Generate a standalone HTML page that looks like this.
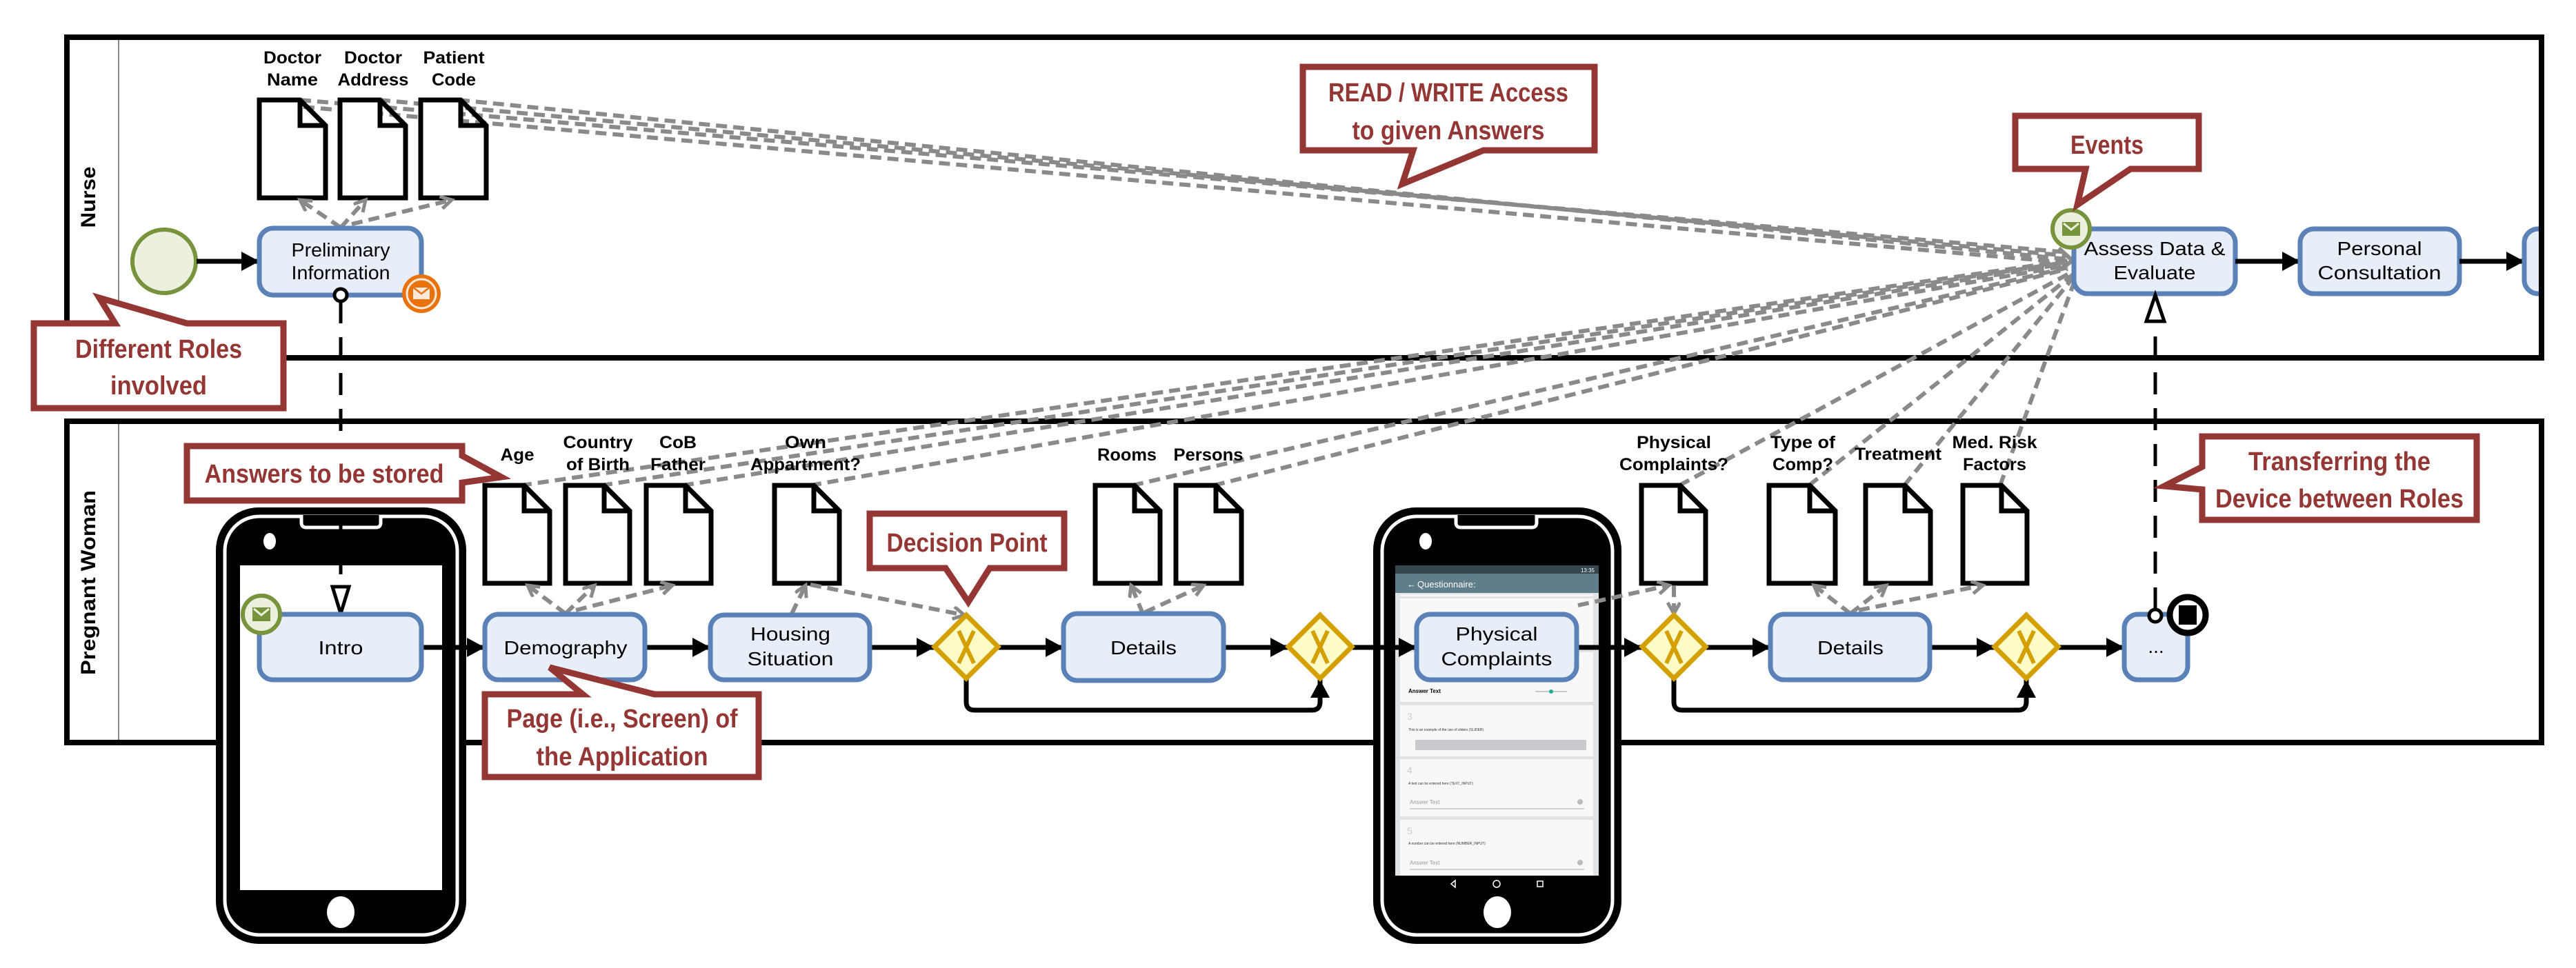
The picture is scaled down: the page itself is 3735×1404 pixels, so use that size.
<!DOCTYPE html>
<html><head><meta charset="utf-8"><style>
html,body{margin:0;padding:0;background:#fff;}
svg{display:block;}
text{font-family:"Liberation Sans",Arial,sans-serif;}
.t{font-size:28px;fill:#000;text-anchor:middle;}
.d{font-size:25px;font-weight:bold;fill:#000;text-anchor:middle;}
.c{font-size:38px;font-weight:bold;fill:#943634;text-anchor:middle;}
.task{fill:#e8eef7;stroke:#5a82b8;stroke-width:7;}
.doc{fill:#fff;stroke:#000;stroke-width:7;stroke-linejoin:miter;}
.seq{stroke:#000;stroke-width:7;fill:none;marker-end:url(#ah);}
.as{stroke:#8a8a8a;stroke-width:6;fill:none;stroke-dasharray:16 9;}
.asa{stroke:#8a8a8a;stroke-width:6;fill:none;stroke-dasharray:16 9;marker-end:url(#oa);}
.gw{fill:#fffcc8;stroke:#d4a000;stroke-width:7;}
.gx{stroke:#d4a000;stroke-width:6;fill:none;}
.call{fill:#fff;stroke:#943634;stroke-width:9;stroke-linejoin:miter;}
</style></head><body>
<svg width="3735" height="1404" viewBox="0 0 3735 1404" xmlns="http://www.w3.org/2000/svg">
<defs>
<marker id="ah" markerUnits="userSpaceOnUse" markerWidth="30" markerHeight="30" refX="26" refY="14" orient="auto"><path d="M0,0 L26,14 L0,28 z" fill="#000"/></marker>
<marker id="oa" markerUnits="userSpaceOnUse" markerWidth="24" markerHeight="24" refX="18" refY="10" orient="auto"><path d="M2,1 L18,10 L2,19" fill="none" stroke="#8a8a8a" stroke-width="5"/></marker>
<clipPath id="lc"><rect x="0" y="0" width="3683" height="1404"/></clipPath>
</defs>

<rect x="97" y="54" width="3588" height="465" fill="none" stroke="#000" stroke-width="8"/>
<line x1="172" y1="58" x2="172" y2="515" stroke="#888" stroke-width="2"/>
<text transform="translate(138,286) rotate(-90)" text-anchor="middle" font-size="30" font-weight="bold" textLength="89" lengthAdjust="spacingAndGlyphs">Nurse</text>
<rect x="97" y="611" width="3588" height="466" fill="none" stroke="#000" stroke-width="8"/>
<line x1="172" y1="615" x2="172" y2="1073" stroke="#888" stroke-width="2"/>
<text transform="translate(138,845) rotate(-90)" text-anchor="middle" font-size="30" font-weight="bold" textLength="268" lengthAdjust="spacingAndGlyphs">Pregnant Woman</text>

<rect x="313" y="736" width="363" height="633" rx="62" fill="#000"/>
<rect x="326" y="749" width="337" height="607" rx="50" fill="none" stroke="#fff" stroke-width="5"/>
<path d="M437,747 L437,758 Q437,765 444,765 L545,765 Q552,765 552,758 L552,747" fill="#000" stroke="#fff" stroke-width="5"/>
<ellipse cx="391" cy="785" rx="9" ry="12" fill="#fff"/>
<rect x="348" y="820" width="293" height="471" fill="#fff"/>
<ellipse cx="494" cy="1323" rx="20" ry="23" fill="#fff"/>

<rect x="1991" y="736" width="360" height="633" rx="62" fill="#000"/>
<rect x="2004" y="749" width="334" height="607" rx="50" fill="none" stroke="#fff" stroke-width="5"/>
<path d="M2111,747 L2111,758 Q2111,765 2118,765 L2221,765 Q2228,765 2228,758 L2228,747" fill="#000" stroke="#fff" stroke-width="5"/>
<ellipse cx="2067" cy="785" rx="9" ry="12" fill="#fff"/>
<rect x="2023" y="820" width="295" height="450" fill="#dfe3e6"/>
<rect x="2023" y="820" width="295" height="12" fill="#37474f"/>
<rect x="2023" y="832" width="295" height="28" fill="#607d8b"/>
<text x="2055" y="852" font-size="13" fill="#fff">Questionnaire:</text>
<text x="2040" y="852" font-size="13" fill="#fff">←</text>
<text x="2312" y="830" font-size="8" fill="#fff" text-anchor="end">13:35</text>
<rect x="2030" y="862" width="280" height="3" fill="#f7f7f7"/>
<rect x="2030" y="868" width="280" height="72" fill="#f8f8f8"/>
<rect x="2030" y="946" width="280" height="72" fill="#f8f8f8"/>
<text x="2042" y="1005" font-size="8" font-weight="bold">Answer Text</text>
<line x1="2226" y1="1003" x2="2272" y2="1003" stroke="#bbb" stroke-width="1.5"/>
<circle cx="2249" cy="1003" r="3" fill="#26a69a"/>
<rect x="2030" y="1023" width="280" height="74" fill="#f8f8f8"/>
<text x="2040" y="1044" font-size="14" fill="#ccc">3</text>
<text x="2042" y="1060" font-size="5" fill="#333">This is an example of the use of sliders (SLIDER)</text>
<rect x="2052" y="1073" width="248" height="15" rx="2" fill="#c8cacd"/>
<rect x="2030" y="1101" width="280" height="83" fill="#f8f8f8"/>
<text x="2040" y="1122" font-size="14" fill="#ccc">4</text>
<text x="2042" y="1138" font-size="5" fill="#333">A text can be entered here (TEXT_INPUT)</text>
<text x="2044" y="1166" font-size="8" fill="#999">Answer Text</text>
<line x1="2044" y1="1173" x2="2297" y2="1173" stroke="#aaa" stroke-width="1"/>
<circle cx="2291" cy="1163" r="4" fill="#bbb"/>
<rect x="2030" y="1189" width="280" height="81" fill="#f8f8f8"/>
<text x="2040" y="1210" font-size="14" fill="#ccc">5</text>
<text x="2042" y="1225" font-size="5" fill="#333">A number can be entered here (NUMBER_INPUT)</text>
<text x="2044" y="1254" font-size="8" fill="#999">Answer Text</text>
<line x1="2044" y1="1261" x2="2297" y2="1261" stroke="#aaa" stroke-width="1"/>
<circle cx="2291" cy="1251" r="4" fill="#bbb"/>
<path d="M2110,1277 L2104,1282 L2110,1287 z" fill="none" stroke="#fff" stroke-width="1.5"/>
<circle cx="2170" cy="1282" r="5" fill="none" stroke="#fff" stroke-width="1.5"/>
<rect x="2229" y="1278" width="8" height="8" fill="none" stroke="#fff" stroke-width="1.5"/>
<ellipse cx="2171" cy="1323" rx="20" ry="23" fill="#fff"/>

<g class="as">
<line x1="435" y1="145" x2="2998" y2="366"/>
<line x1="550" y1="145" x2="2998" y2="371"/>
<line x1="665" y1="145" x2="2998" y2="376"/>
<line x1="440" y1="155" x2="2998" y2="381"/>
<line x1="755" y1="704" x2="2998" y2="378"/>
<line x1="872" y1="704" x2="2998" y2="380"/>
<line x1="990" y1="704" x2="2998" y2="382"/>
<line x1="1175" y1="704" x2="2998" y2="385"/>
<line x1="1642" y1="704" x2="2998" y2="388"/>
<line x1="1760" y1="704" x2="2998" y2="390"/>
<line x1="2435" y1="704" x2="3003" y2="395"/>
<line x1="2623" y1="704" x2="3006" y2="398"/>
<line x1="2761" y1="704" x2="3008" y2="400"/>
<line x1="2900" y1="704" x2="3010" y2="402"/>
</g>
<path d="M2985,360 L3005,378 L2985,392" fill="none" stroke="#8a8a8a" stroke-width="6"/>

<g class="doc">
<path d="M376,145 L435,145 L472,182 L472,287 L376,287 z M435,145 L435,182 L472,182"/>
<path d="M493,145 L551,145 L588,182 L588,287 L493,287 z M551,145 L551,182 L588,182"/>
<path d="M610,145 L668,145 L705,182 L705,287 L610,287 z M668,145 L668,182 L705,182"/>
</g>
<text class="d" x="424" y="92" textLength="84" lengthAdjust="spacingAndGlyphs">Doctor</text>
<text class="d" x="424" y="124" textLength="74" lengthAdjust="spacingAndGlyphs">Name</text>
<text class="d" x="541" y="92" textLength="84" lengthAdjust="spacingAndGlyphs">Doctor</text>
<text class="d" x="541" y="124" textLength="103" lengthAdjust="spacingAndGlyphs">Address</text>
<text class="d" x="658" y="92" textLength="89" lengthAdjust="spacingAndGlyphs">Patient</text>
<text class="d" x="658" y="124" textLength="64" lengthAdjust="spacingAndGlyphs">Code</text>
<line class="asa" x1="494" y1="330" x2="435" y2="290"/>
<line class="asa" x1="494" y1="330" x2="530" y2="290"/>
<line class="asa" x1="510" y1="325" x2="655" y2="290"/>

<circle cx="238" cy="379" r="46" fill="#ebf1de" stroke="#77933c" stroke-width="6"/>
<line class="seq" x1="285" y1="379" x2="376" y2="379"/>
<rect class="task" x="376" y="331" width="235" height="97" rx="20"/>
<text class="t" x="494" y="372" font-size="26" textLength="143" lengthAdjust="spacingAndGlyphs">Preliminary</text>
<text class="t" x="494" y="405" font-size="26" textLength="143" lengthAdjust="spacingAndGlyphs">Information</text>
<circle cx="611" cy="426" r="28" fill="#e8720c"/>
<circle cx="611" cy="426" r="21" fill="none" stroke="#fde9d9" stroke-width="3"/>
<rect x="598" y="416" width="26" height="19" fill="#fde9d9" stroke="#e8720c" stroke-width="2"/>
<path d="M598,416 L611,426 L624,416" fill="none" stroke="#e8720c" stroke-width="2.5"/>

<rect class="task" x="3007" y="332" width="234" height="94" rx="20"/>
<text class="t" x="3124" y="370" textLength="205" lengthAdjust="spacingAndGlyphs">Assess Data &amp;</text>
<text class="t" x="3124" y="405" textLength="119" lengthAdjust="spacingAndGlyphs">Evaluate</text>
<circle cx="3003" cy="332" r="27" fill="#ebf1de" stroke="#77933c" stroke-width="6"/>
<rect x="2990" y="322" width="26" height="20" fill="#77933c"/>
<path d="M2992,324 L3003,333 L3014,324" fill="none" stroke="#ebf1de" stroke-width="3"/>
<line class="seq" x1="3241" y1="379" x2="3335" y2="379"/>
<rect class="task" x="3335" y="332" width="231" height="94" rx="20"/>
<text class="t" x="3450" y="370" textLength="123" lengthAdjust="spacingAndGlyphs">Personal</text>
<text class="t" x="3450" y="405" textLength="179" lengthAdjust="spacingAndGlyphs">Consultation</text>
<line class="seq" x1="3566" y1="379" x2="3660" y2="379"/>
<g clip-path="url(#lc)"><rect class="task" x="3660" y="332" width="120" height="94" rx="20"/></g>
<rect x="3681" y="50" width="8" height="473" fill="#000"/>

<circle cx="494" cy="428" r="9" fill="#fff" stroke="#000" stroke-width="5"/>
<line x1="494" y1="437" x2="494" y2="850" stroke="#000" stroke-width="5" stroke-dasharray="32 20"/>
<path d="M482,851 L506,851 L494,890 z" fill="#fff" stroke="#000" stroke-width="5"/>
<line x1="3125" y1="884" x2="3125" y2="468" stroke="#000" stroke-width="5" stroke-dasharray="32 20"/>
<path d="M3112,466 L3138,466 L3125,428 z" fill="#fff" stroke="#000" stroke-width="5"/>

<g class="doc">
<path d="M703,704 L760,704 L797,741 L797,846 L703,846 z M760,704 L760,741 L797,741"/>
<path d="M820,704 L876,704 L913,741 L913,846 L820,846 z M876,704 L876,741 L913,741"/>
<path d="M937,704 L994,704 L1031,741 L1031,846 L937,846 z M994,704 L994,741 L1031,741"/>
<path d="M1123,704 L1180,704 L1217,741 L1217,846 L1123,846 z M1180,704 L1180,741 L1217,741"/>
<path d="M1588,704 L1645,704 L1682,741 L1682,846 L1588,846 z M1645,704 L1645,741 L1682,741"/>
<path d="M1705,704 L1763,704 L1800,741 L1800,846 L1705,846 z M1763,704 L1763,741 L1800,741"/>
<path d="M2380,704 L2436,704 L2473,741 L2473,846 L2380,846 z M2436,704 L2436,741 L2473,741"/>
<path d="M2565,704 L2624,704 L2661,741 L2661,846 L2565,846 z M2624,704 L2624,741 L2661,741"/>
<path d="M2705,704 L2762,704 L2799,741 L2799,846 L2705,846 z M2762,704 L2762,741 L2799,741"/>
<path d="M2846,704 L2902,704 L2939,741 L2939,846 L2846,846 z M2902,704 L2902,741 L2939,741"/>
</g>
<text class="d" x="750" y="668" textLength="49" lengthAdjust="spacingAndGlyphs">Age</text>
<text class="d" x="867" y="650" textLength="101" lengthAdjust="spacingAndGlyphs">Country</text>
<text class="d" x="867" y="682" textLength="92" lengthAdjust="spacingAndGlyphs">of Birth</text>
<text class="d" x="983" y="650" textLength="54" lengthAdjust="spacingAndGlyphs">CoB</text>
<text class="d" x="983" y="682" textLength="80" lengthAdjust="spacingAndGlyphs">Father</text>
<text class="d" x="1168" y="650" textLength="60" lengthAdjust="spacingAndGlyphs">Own</text>
<text class="d" x="1168" y="682" textLength="160" lengthAdjust="spacingAndGlyphs">Appartment?</text>
<text class="d" x="1634" y="668" textLength="86" lengthAdjust="spacingAndGlyphs">Rooms</text>
<text class="d" x="1752" y="668" textLength="101" lengthAdjust="spacingAndGlyphs">Persons</text>
<text class="d" x="2427" y="650" textLength="108" lengthAdjust="spacingAndGlyphs">Physical</text>
<text class="d" x="2427" y="682" textLength="158" lengthAdjust="spacingAndGlyphs">Complaints?</text>
<text class="d" x="2614" y="650" textLength="94" lengthAdjust="spacingAndGlyphs">Type of</text>
<text class="d" x="2614" y="682" textLength="88" lengthAdjust="spacingAndGlyphs">Comp?</text>
<text class="d" x="2752" y="667" textLength="126" lengthAdjust="spacingAndGlyphs">Treatment</text>
<text class="d" x="2892" y="650" textLength="123" lengthAdjust="spacingAndGlyphs">Med. Risk</text>
<text class="d" x="2892" y="682" textLength="92" lengthAdjust="spacingAndGlyphs">Factors</text>

<line class="asa" x1="820" y1="890" x2="765" y2="849"/>
<line class="asa" x1="820" y1="890" x2="862" y2="849"/>
<line class="asa" x1="835" y1="885" x2="975" y2="849"/>
<line class="asa" x1="1148" y1="890" x2="1168" y2="849"/>
<line class="asa" x1="1175" y1="848" x2="1398" y2="892"/>
<line class="asa" x1="1657" y1="890" x2="1640" y2="849"/>
<line class="asa" x1="1660" y1="888" x2="1745" y2="849"/>
<line class="asa" x1="2288" y1="878" x2="2420" y2="849"/>
<line class="asa" x1="2427" y1="850" x2="2427" y2="890"/>
<line class="asa" x1="2683" y1="890" x2="2630" y2="849"/>
<line class="asa" x1="2683" y1="890" x2="2735" y2="849"/>
<line class="asa" x1="2695" y1="885" x2="2875" y2="849"/>

<line class="seq" x1="611" y1="939" x2="703" y2="939"/>
<line class="seq" x1="935" y1="939" x2="1030" y2="939"/>
<line class="seq" x1="1261" y1="939" x2="1355" y2="939"/>
<line class="seq" x1="1447" y1="939" x2="1542" y2="939"/>
<line class="seq" x1="1774" y1="939" x2="1868" y2="939"/>
<line class="seq" x1="1960" y1="939" x2="2054" y2="939"/>
<line class="seq" x1="2286" y1="939" x2="2381" y2="939"/>
<line class="seq" x1="2473" y1="939" x2="2567" y2="939"/>
<line class="seq" x1="2798" y1="939" x2="2892" y2="939"/>
<line class="seq" x1="2984" y1="939" x2="3080" y2="939"/>
<path class="seq" d="M1401,984 L1401,1018 Q1401,1030 1413,1030 L1902,1030 Q1914,1030 1914,1018 L1914,986"/>
<path class="seq" d="M2427,984 L2427,1018 Q2427,1030 2439,1030 L2926,1030 Q2938,1030 2938,1018 L2938,986"/>

<rect class="task" x="376" y="891" width="235" height="95" rx="20"/>
<text class="t" x="494" y="949" textLength="65" lengthAdjust="spacingAndGlyphs">Intro</text>
<circle cx="379" cy="891" r="27" fill="#ebf1de" stroke="#77933c" stroke-width="6"/>
<rect x="366" y="881" width="26" height="20" fill="#77933c"/>
<path d="M368,883 L379,892 L390,883" fill="none" stroke="#ebf1de" stroke-width="3"/>
<rect class="task" x="703" y="891" width="232" height="95" rx="20"/>
<text class="t" x="820" y="949" textLength="179" lengthAdjust="spacingAndGlyphs">Demography</text>
<rect class="task" x="1030" y="892" width="231" height="94" rx="20"/>
<text class="t" x="1146" y="929" textLength="116" lengthAdjust="spacingAndGlyphs">Housing</text>
<text class="t" x="1146" y="965" textLength="125" lengthAdjust="spacingAndGlyphs">Situation</text>
<rect class="task" x="1542" y="890" width="232" height="97" rx="20"/>
<text class="t" x="1658" y="949" textLength="96" lengthAdjust="spacingAndGlyphs">Details</text>
<rect class="task" x="2054" y="891" width="232" height="95" rx="20"/>
<text class="t" x="2170" y="929" textLength="119" lengthAdjust="spacingAndGlyphs">Physical</text>
<text class="t" x="2170" y="965" textLength="161" lengthAdjust="spacingAndGlyphs">Complaints</text>
<rect class="task" x="2567" y="891" width="231" height="95" rx="20"/>
<text class="t" x="2683" y="949" textLength="96" lengthAdjust="spacingAndGlyphs">Details</text>
<rect class="task" x="3080" y="891" width="92" height="95" rx="20"/>
<text class="t" x="3126" y="947">...</text>

<path class="gw" d="M1401,892 L1447,938 L1401,984 L1355,938 z"/><path class="gx" d="M1390,915 L1412,962 M1412,915 L1390,962"/>
<path class="gw" d="M1914,892 L1960,938 L1914,984 L1868,938 z"/><path class="gx" d="M1903,915 L1925,962 M1925,915 L1903,962"/>
<path class="gw" d="M2427,892 L2473,938 L2427,984 L2381,938 z"/><path class="gx" d="M2416,915 L2438,962 M2438,915 L2416,962"/>
<path class="gw" d="M2938,892 L2984,938 L2938,984 L2892,938 z"/><path class="gx" d="M2927,915 L2949,962 M2949,915 L2927,962"/>

<circle cx="3125" cy="893" r="9" fill="#fff" stroke="#000" stroke-width="5"/>
<circle cx="3172" cy="892" r="26" fill="#fff" stroke="#000" stroke-width="9"/>
<rect x="3159" y="878" width="26" height="28" fill="#000"/>

<path class="call" d="M49,469 L167,469 L144,432 L271,469 L411,469 L411,592 L49,592 z"/>
<text class="c" x="230" y="519" textLength="242" lengthAdjust="spacingAndGlyphs">Different Roles</text>
<text class="c" x="230" y="572" textLength="140" lengthAdjust="spacingAndGlyphs">involved</text>

<path class="call" d="M271,647 L670,647 L670,661 L727,692 L670,700 L670,726 L271,726 z"/>
<text class="c" x="470" y="700" textLength="347" lengthAdjust="spacingAndGlyphs">Answers to be stored</text>

<path class="call" d="M703,1007 L845,1007 L797,968 L949,1007 L1100,1007 L1100,1127 L703,1127 z"/>
<text class="c" x="902" y="1055" textLength="335" lengthAdjust="spacingAndGlyphs">Page (i.e., Screen) of</text>
<text class="c" x="902" y="1110" textLength="249" lengthAdjust="spacingAndGlyphs">the Application</text>

<path class="call" d="M1261,745 L1543,745 L1543,824 L1435,824 L1404,873 L1371,824 L1261,824 z"/>
<text class="c" x="1402" y="800" textLength="233" lengthAdjust="spacingAndGlyphs">Decision Point</text>

<path class="call" d="M1889,97 L2312,97 L2312,218 L2151,218 L2033,267 L2049,218 L1889,218 z"/>
<text class="c" x="2100" y="147" textLength="348" lengthAdjust="spacingAndGlyphs">READ / WRITE Access</text>
<text class="c" x="2100" y="202" textLength="279" lengthAdjust="spacingAndGlyphs">to given Answers</text>

<path class="call" d="M2922,168 L3188,168 L3188,245 L3089,245 L3012,297 L3024,245 L2922,245 z"/>
<text class="c" x="3055" y="223" textLength="106" lengthAdjust="spacingAndGlyphs">Events</text>

<path class="call" d="M3193,633 L3591,633 L3591,754 L3193,754 L3193,710 L3138,705 L3193,677 z"/>
<text class="c" x="3392" y="682" textLength="264" lengthAdjust="spacingAndGlyphs">Transferring the</text>
<text class="c" x="3392" y="736" textLength="360" lengthAdjust="spacingAndGlyphs">Device between Roles</text>
</svg>
</body></html>
